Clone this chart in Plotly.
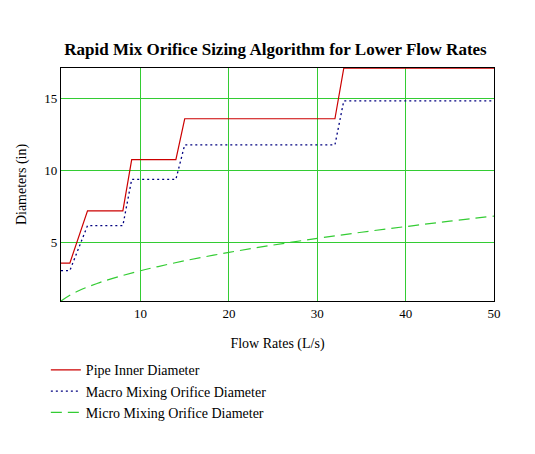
import plotly.graph_objects as go

# flow rates (L/s) at the corners of the stepped sizing curves
step_flow = [1, 2, 4, 8, 9, 14, 15, 32, 33, 50]
pipe_id = [3.6, 3.6, 7.22, 7.22, 10.78, 10.78, 13.61, 13.61, 17.12, 17.12]
macro_orifice = [3.08, 3.08, 6.2, 6.2, 9.4, 9.4, 11.8, 11.8, 14.85, 14.85]

# micro mixing orifice
micro_flow = [1, 2, 3, 4, 5, 6, 8, 10, 12, 15, 20, 25, 30, 35, 40, 45, 50]
micro_orifice = [0.97, 1.37, 1.68, 1.94, 2.17, 2.38, 2.74, 3.07, 3.36, 3.76,
                 4.34, 4.85, 5.31, 5.74, 6.13, 6.51, 6.86]

x_ticks = [10, 20, 30, 40, 50]
y_ticks = [5, 10, 15]

serif = "Liberation Serif, Times New Roman, serif"
grid_green = "#33cc33"

fig = go.Figure()
fig.add_trace(go.Scatter(x=step_flow, y=pipe_id, mode="lines", name="Pipe Inner Diameter",
                         line=dict(color="#cc0000", width=1.2)))
fig.add_trace(go.Scatter(x=step_flow, y=macro_orifice, mode="lines", name="Macro Mixing Orifice Diameter",
                         line=dict(color="#000080", width=1.3, dash="2px,3px")))
fig.add_trace(go.Scatter(x=micro_flow, y=micro_orifice, mode="lines", name="Micro Mixing Orifice Diameter",
                         line=dict(color=grid_green, width=1.2, dash="11px,6px", shape="spline")))

# page body adds ~8px, so the margins are shifted to compensate
fig.update_layout(
    width=535, height=454,
    margin=dict(l=50, r=49, t=60, b=161),
    paper_bgcolor="white", plot_bgcolor="white",
    font=dict(family=serif, size=13, color="black"),
    title=dict(text="<b>Rapid Mix Orifice Sizing Algorithm for Lower Flow Rates</b>",
               font=dict(family=serif, size=17, color="black"),
               x=0.5, xanchor="center", y=1 - 41 / 454, yanchor="middle"),
    showlegend=True,
    legend=dict(x=-0.035, xanchor="left", y=-0.229, yanchor="top",
                font=dict(family=serif, size=14), bgcolor="rgba(0,0,0,0)",
                tracegroupgap=0, itemwidth=30),
)
fig.update_xaxes(range=[1, 50], tickvals=x_ticks, showgrid=True, gridcolor=grid_green, gridwidth=1,
                 showline=True, linecolor="black", linewidth=1.3, mirror=True, zeroline=False,
                 ticks="", tickfont=dict(size=13),
                 title=dict(text="Flow Rates (L/s)", font=dict(size=14), standoff=18))
fig.update_yaxes(range=[0.97, 17.13], tickvals=y_ticks, showgrid=True, gridcolor=grid_green, gridwidth=1,
                 showline=True, linecolor="black", linewidth=1.3, mirror=True, zeroline=False,
                 ticks="", tickfont=dict(size=13),
                 title=dict(text="Diameters (in)", font=dict(size=14), standoff=14))

fig.write_html("out.html")
